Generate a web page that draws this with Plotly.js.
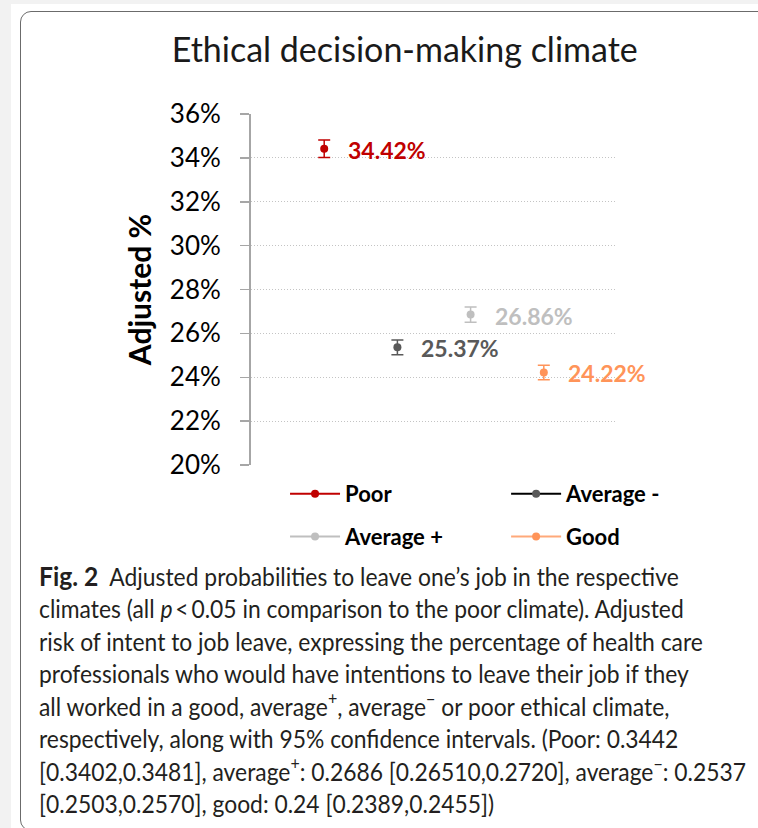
<!DOCTYPE html>
<html>
<head>
<meta charset="utf-8">
<script src="https://cdn.plot.ly/plotly-3.0.1.min.js"></script>
<style>
  html, body { margin: 0; padding: 0; background: #f2f2f2; width: 758px; height: 828px; overflow: hidden; }
  #sheet { position: absolute; left: 11px; top: 4px; right: 0; bottom: 0; background: #ffffff; }
  #card { position: absolute; left: 20px; top: 11px; width: 780px; height: 818px; border: 1.5px solid #6b6b6b; border-radius: 11px; background: #ffffff; }
  #chart { position: absolute; left: 0; top: 0; width: 758px; height: 828px; }
</style>
</head>
<body>
<div id="sheet"></div>
<div id="card"></div>
<div id="chart"></div>
<script>
// ---- data ----
const categories = ['Poor', 'Average -', 'Average +', 'Good'];
const adjustedPct = [34.42, 25.37, 26.86, 24.22];
const ciLowerPct = [34.02, 25.03, 26.51, 23.89];
const ciUpperPct = [34.81, 25.70, 27.20, 24.55];
const yTickValues = [20, 22, 24, 26, 28, 30, 32, 34, 36];
const yTickLabels = ['20%', '22%', '24%', '26%', '28%', '30%', '32%', '34%', '36%'];
const captionLines = [
  '<b><span style="font-size:27px">Fig. 2</span></b>  Adjusted probabilities to leave one\u2019s job in the respective',
  'climates (all <i>p</i>\u2009<\u20090.05 in comparison to the poor climate). Adjusted',
  'risk of intent to job leave, expressing the percentage of health care',
  'professionals who would have intentions to leave their job if they',
  'all worked in a good, average<sup>+</sup>, average<sup>\u2212</sup> or poor ethical climate,',
  'respectively, along with 95% confidence intervals. (Poor: 0.3442',
  '[0.3402,0.3481], average<sup>+</sup>: 0.2686 [0.26510,0.2720], average<sup>\u2212</sup>: 0.2537',
  '[0.2503,0.2570], good: 0.24 [0.2389,0.2455])'
];

// ---- styles ----
const markerColors = ['#C00000', '#595959', '#BFBFBF', '#FF9459'];
const legendLineColors = ['#C00000', '#000000', '#BFBFBF', '#FFA97A'];
const legendIds = ['legend', 'legend2', 'legend', 'legend2'];
const FONT = 'Lato, Carlito, Calibri, "Open Sans", sans-serif';
const CAPFONT = 'Lato, "Open Sans", sans-serif';

const traces = categories.map((c, i) => ({
  type: 'scatter',
  mode: 'lines+markers',
  name: c,
  x: [c],
  y: [adjustedPct[i]],
  legend: legendIds[i],
  legendgroup: 'g' + i,
  marker: { color: markerColors[i], size: 8 },
  line: { color: legendLineColors[i], width: 2 },
  error_y: {
    type: 'data', symmetric: false,
    array: [+(ciUpperPct[i] - adjustedPct[i]).toFixed(4)],
    arrayminus: [+(adjustedPct[i] - ciLowerPct[i]).toFixed(4)],
    color: markerColors[i], thickness: 1.5, width: 6
  },
  hoverinfo: 'name+y'
}));

const labelAnnotations = categories.map((c, i) => ({
  x: c, y: adjustedPct[i], xref: 'x', yref: 'y',
  text: '<b>' + adjustedPct[i].toFixed(2) + '%</b>',
  showarrow: false, xanchor: 'left', yanchor: 'middle', xshift: 22, yshift: -1,
  font: { family: FONT, size: 23, color: markerColors[i] }
}));

const captionAnnotation = {
  xref: 'paper', yref: 'paper', x: -0.5847, y: -0.2615,
  xanchor: 'left', yanchor: 'top', align: 'left',
  showarrow: false,
  text: captionLines.join('<br>'),
  font: { family: CAPFONT, size: 25, color: '#231f20' }
};

const legendCommon = {
  orientation: 'v', xanchor: 'left', yanchor: 'top',
  bgcolor: 'rgba(0,0,0,0)', borderwidth: 0,
  font: { family: FONT, size: 22, color: '#000000', weight: 'bold' },
  itemwidth: 50, tracegroupgap: 11, traceorder: 'grouped',
  itemclick: false, itemdoubleclick: false
};

const layout = {
  width: 758, height: 828,
  margin: { l: 251, r: 141, t: 114, b: 363 },
  paper_bgcolor: 'rgba(0,0,0,0)',
  plot_bgcolor: 'rgba(0,0,0,0)',
  showlegend: true,
  title: {
    text: 'Ethical decision-making climate',
    xref: 'container', yref: 'container', x: 0.534, y: 0.9396,
    xanchor: 'center', yanchor: 'middle',
    font: { family: FONT, size: 34, color: '#1a1a1a' }
  },
  xaxis: {
    type: 'category', categoryorder: 'array', categoryarray: categories,
    range: [-1, 4], showgrid: false, zeroline: false, showline: false,
    showticklabels: false, ticks: '', fixedrange: true
  },
  yaxis: {
    range: [20, 36], tickmode: 'array', tickvals: yTickValues, ticktext: yTickLabels,
    showgrid: true, gridcolor: '#c4c4c4', griddash: '1px,2px', gridwidth: 1,
    zeroline: false, showline: true, linecolor: '#a6a6a6', linewidth: 2,
    ticks: 'outside', ticklen: 9, tickwidth: 1.5, tickcolor: '#a6a6a6',
    ticklabelstandoff: 14,
    tickfont: { family: FONT, size: 26, color: '#000000' },
    title: { text: '<b>Adjusted %</b>', standoff: 9, font: { family: FONT, size: 30, color: '#000000' } },
    fixedrange: true
  },
  legend: Object.assign({}, legendCommon, { x: 0.093, y: -0.0228 }),
  legend2: Object.assign({}, legendCommon, { x: 0.697, y: -0.0228 }),
  annotations: labelAnnotations.concat([captionAnnotation])
};

Plotly.newPlot('chart', traces, layout, { displayModeBar: false, staticPlot: true }).then(gd => {
  // condense the caption text slightly (the original caption uses a condensed face)
  const anns = gd.querySelectorAll('.annotation');
  const cap = anns[anns.length - 1].querySelector('text.annotation-text');
  const lines = cap.querySelectorAll('tspan.line');
  if (lines.length > 6) {
    const w3 = lines[2].getComputedTextLength();
    const w7 = lines[6].getComputedTextLength();
    const s = Math.min(1, (680 + 692) / (w3 + w7));
    cap.style.transformBox = 'fill-box';
    cap.style.transformOrigin = 'left top';
    cap.style.transform = 'scaleX(' + s.toFixed(4) + ')';
  }
});
</script>
</body>
</html>
